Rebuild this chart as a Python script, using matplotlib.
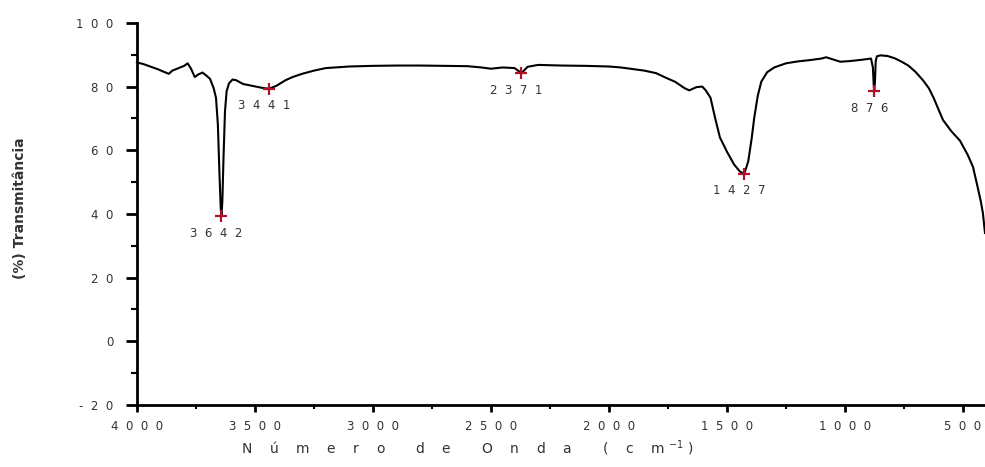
import matplotlib
matplotlib.use("Agg")
import matplotlib.pyplot as plt
from matplotlib.ticker import MultipleLocator, FuncFormatter

# FTIR spectrum: wavenumber (cm^-1) vs transmittance (%)
wavenumber = [
    4000, 3970, 3940, 3910, 3885, 3865, 3850, 3830, 3800, 3785, 3770, 3755,
    3740, 3722, 3705, 3690, 3675, 3665, 3657, 3650, 3645, 3642, 3638, 3633,
    3627, 3620, 3610, 3595, 3580, 3550, 3510, 3470, 3441, 3410, 3370, 3340,
    3300, 3250, 3200, 3100, 3000, 2900, 2800, 2700, 2600, 2540, 2500, 2450,
    2400, 2371, 2345, 2300, 2200, 2100, 2000, 1950, 1900, 1850, 1800, 1760,
    1720, 1680, 1660, 1630, 1605, 1590, 1570, 1550, 1530, 1500, 1470, 1445,
    1427, 1410, 1395, 1385, 1370, 1355, 1330, 1300, 1250, 1200, 1150, 1100,
    1080, 1050, 1020, 980, 930, 890, 882, 878, 876, 873, 870, 865, 850, 820,
    790, 760, 730, 700, 670, 645, 625, 605, 585, 550, 513, 480, 458, 440,
    425, 416, 407,
]
transmittance = [
    87.6, 87.0, 86.2, 85.4, 84.6, 84.0, 85.0, 85.6, 86.5, 87.3, 85.5, 83.0,
    83.8, 84.4, 83.4, 82.4, 79.5, 76.5, 68.0, 52.0, 42.0, 39.3, 44.0, 58.0,
    72.0, 78.5, 81.0, 82.2, 82.0, 80.8, 80.2, 79.6, 79.3, 80.2, 82.0, 83.0,
    84.0, 85.0, 85.8, 86.3, 86.5, 86.6, 86.6, 86.5, 86.4, 86.0, 85.6, 86.0,
    85.8, 84.2, 86.2, 86.8, 86.6, 86.5, 86.3, 86.0, 85.5, 85.0, 84.2, 82.8,
    81.5, 79.5, 78.8, 79.8, 80.0, 78.8, 76.5, 70.0, 64.0, 59.5, 55.5, 53.3,
    52.6, 56.5, 64.0, 70.0, 77.0, 81.5, 84.5, 86.0, 87.3, 87.9, 88.3, 88.8,
    89.2, 88.5, 87.8, 88.0, 88.4, 88.8, 86.0, 80.0, 78.6, 82.0, 88.0, 89.5,
    89.8, 89.6, 88.9, 87.8, 86.5, 84.5, 82.0, 79.5, 76.5, 73.0, 69.5, 66.0,
    63.0, 58.5, 54.8, 49.0, 44.0, 40.3, 34.0,
]

# picked absorption bands
peak_pos = [3642, 3441, 2371, 1427, 876]
peak_val = [39.3, 79.3, 84.2, 52.6, 78.6]


def spaced(v, pos=None):
    return "  ".join(str(int(round(v))))


fig = plt.figure(figsize=(9.85, 4.67), dpi=100)
ax = fig.add_axes([0.139, 0.133, 0.861, 0.818])

ax.plot(wavenumber, transmittance, color="black", lw=1.5, clip_on=False)
ax.plot(peak_pos, peak_val, ls="none", marker="+", ms=9, mew=1.6,
        color="#b0102a")
for x, y in zip(peak_pos, peak_val):
    ax.annotate(spaced(x), (x, y), xytext=(-5, -17), textcoords="offset pixels",
                ha="center", va="center", fontsize=8.5, color="#333333")

ax.set_xlim(4000, 407)
ax.set_ylim(-20, 100)
ax.xaxis.set_major_locator(MultipleLocator(500))
ax.xaxis.set_minor_locator(MultipleLocator(250))
ax.yaxis.set_major_locator(MultipleLocator(20))
ax.yaxis.set_minor_locator(MultipleLocator(10))
ax.xaxis.set_major_formatter(FuncFormatter(spaced))
ax.yaxis.set_major_formatter(FuncFormatter(spaced))

for side in ("top", "right"):
    ax.spines[side].set_visible(False)
for side in ("left", "bottom"):
    ax.spines[side].set_linewidth(2)
ax.tick_params(which="both", direction="out", labelsize=8.5,
               labelcolor="#333333")
ax.tick_params(axis="y", which="major", length=8, width=2, pad=9)
ax.tick_params(axis="y", which="minor", length=4.5, width=1.5)
ax.tick_params(axis="x", which="major", length=5, width=2, pad=6)
ax.tick_params(axis="x", which="minor", length=3, width=1.5)

fig.text(0.475, 0.041,
         "N    ú    m    e    r    o       d    e       O    n    d    a"
         "       (    c    m $^{-1}$ )",
         ha="center", va="center", fontsize=10, color="#333333")
fig.text(0.02, 0.555, "(%) Transmitância", rotation=90, ha="center",
         va="center", fontsize=10, fontweight="bold", color="#333333")

fig.savefig("out.png", dpi=100)
